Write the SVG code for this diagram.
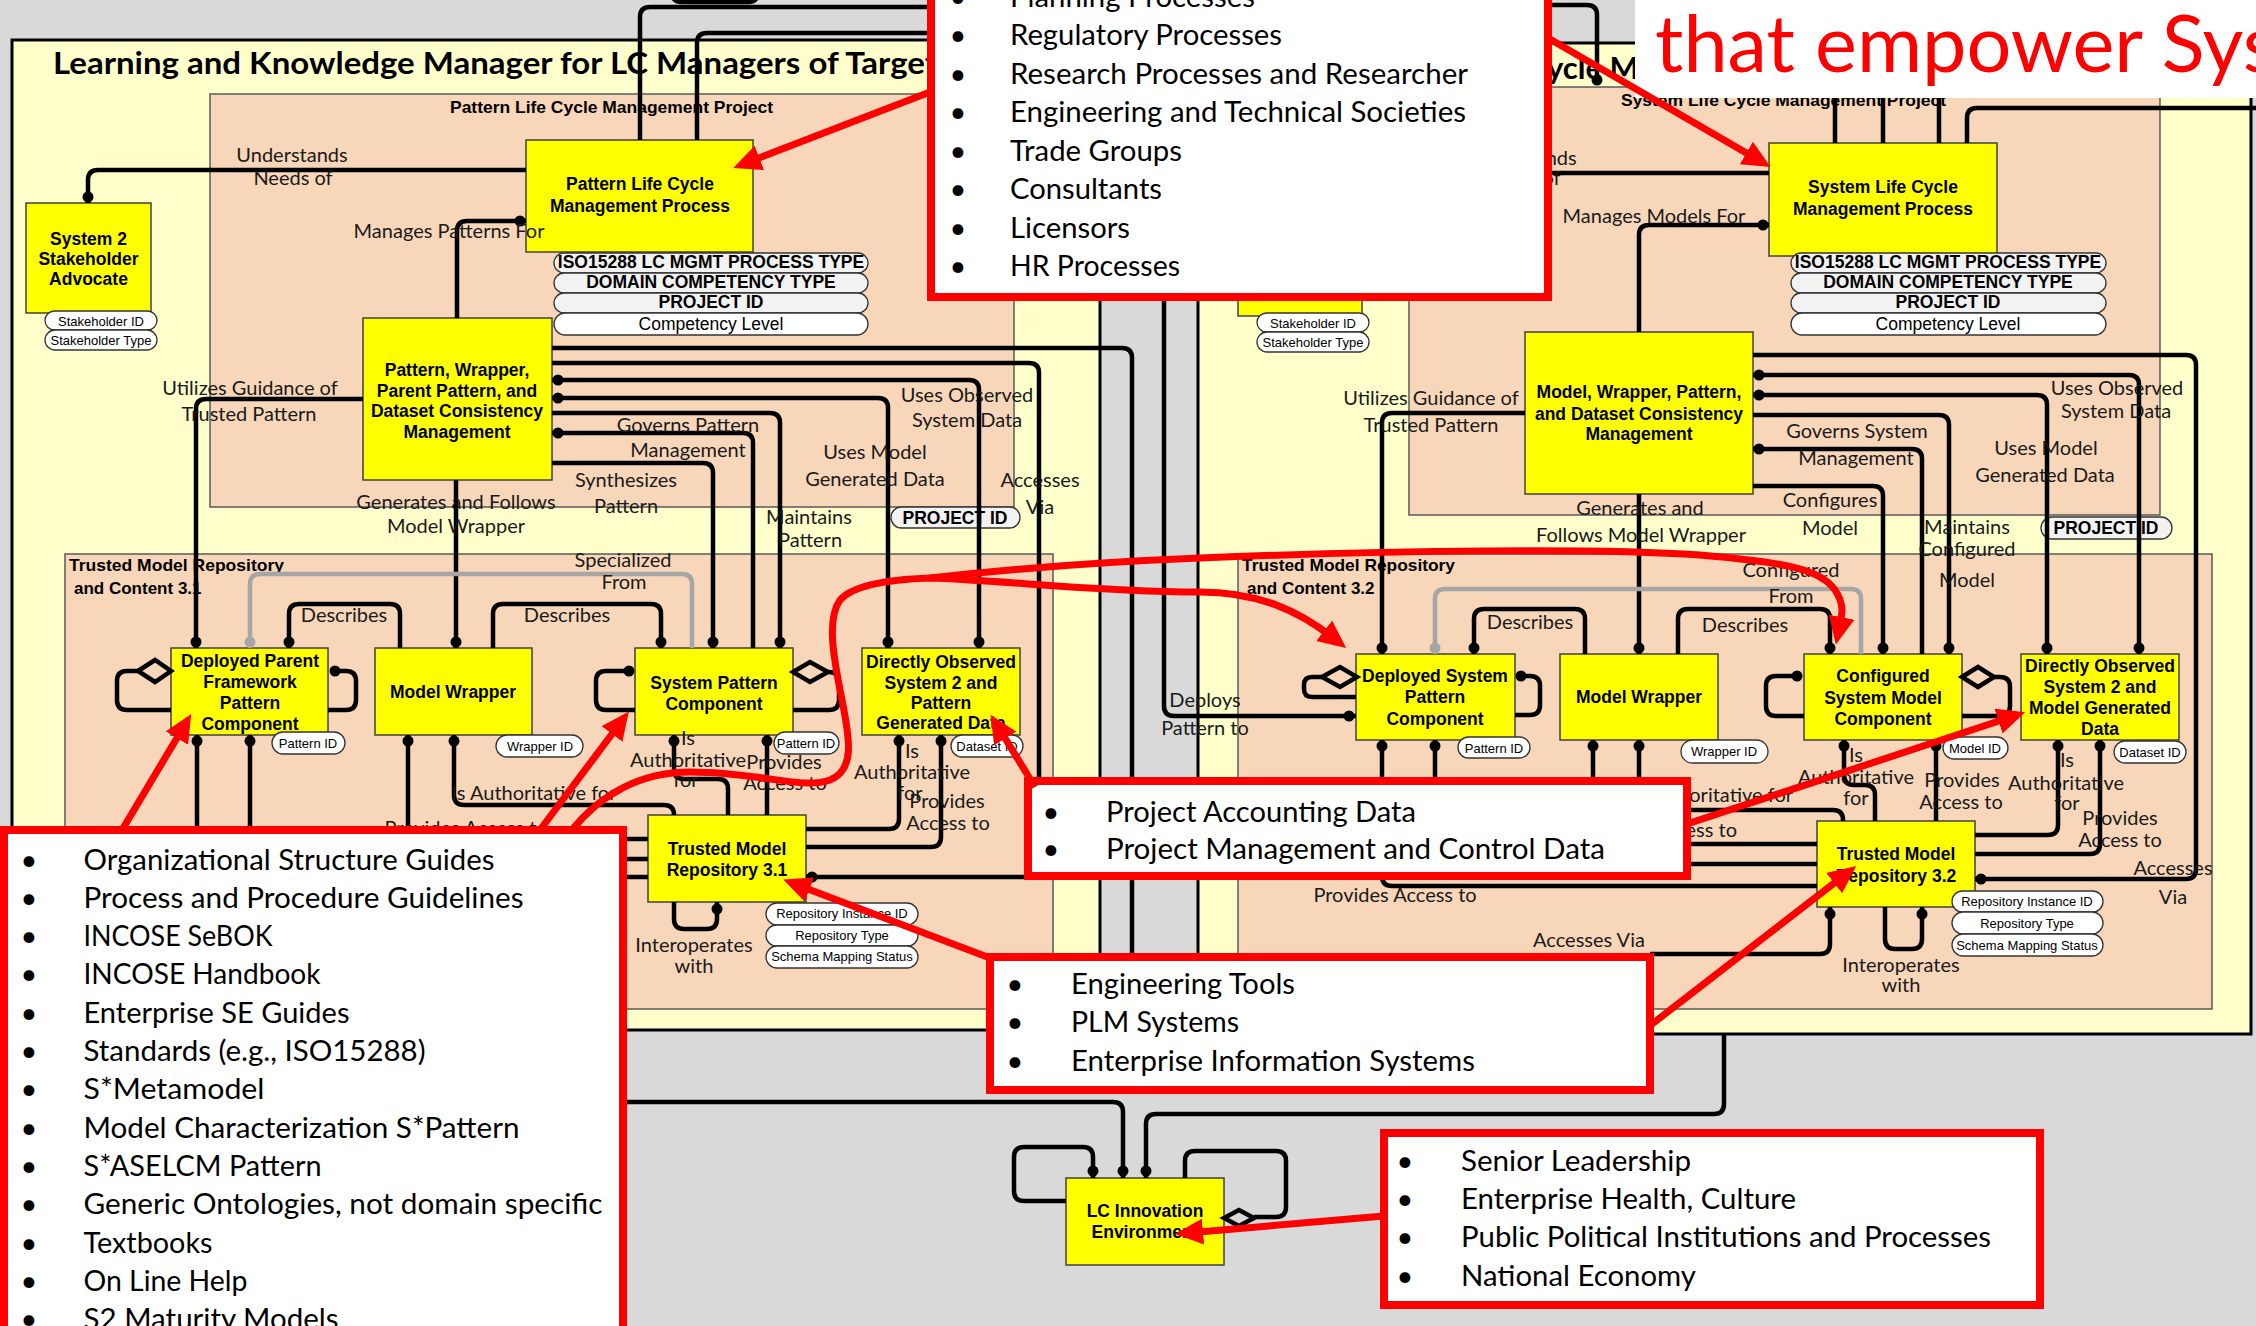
<svg xmlns="http://www.w3.org/2000/svg" width="2256" height="1326" viewBox="0 0 2256 1326">
<defs>
<style>
.bg{fill:#d9d9d9}
.panel{fill:#ffffcc;stroke:#000;stroke-width:3}
.sal{fill:#f8d6b9;stroke:#595959;stroke-width:1.5}
.box{fill:#ffff00;stroke:#404040;stroke-width:1.5}
.nt{font-family:"Liberation Sans",Arial,sans-serif;font-weight:bold;font-size:17.5px;text-anchor:middle;fill:#000}
.st{font-family:"Liberation Sans",Arial,sans-serif;font-weight:bold;font-size:17px;fill:#000}
.pill{fill:#fff;stroke:#333;stroke-width:1.3}
.pillg{fill:#f2f2f2;stroke:#333;stroke-width:1.3}
.pt{font-family:"Liberation Sans",Arial,sans-serif;font-size:13px;text-anchor:middle;fill:#000}
.pb{font-family:"Liberation Sans",Arial,sans-serif;font-weight:bold;font-size:17.5px;text-anchor:middle;fill:#000}
.pn{font-family:"Liberation Sans",Arial,sans-serif;font-size:17.5px;text-anchor:middle;fill:#000}
.c{fill:none;stroke:#000;stroke-width:4.5;stroke-linejoin:round}
.cg{fill:none;stroke:#a6a6a6;stroke-width:4.5;stroke-linejoin:round}
.dm{fill:none;stroke:#000;stroke-width:4.5;stroke-linejoin:miter}
.d{fill:#000}
.dg{fill:#a6a6a6}
.lbl{font-family:Lato,"Open Sans",sans-serif;font-size:20px;text-anchor:middle;fill:#1a1a1a}
.le{text-anchor:end}
.rb{fill:#fff;stroke:#ff0000;stroke-width:8}
.ra{fill:none;stroke:#ff0000;stroke-width:7;marker-end:url(#rh)}
.ct{font-family:Lato,"Open Sans",sans-serif;font-size:29px;fill:#000}
.bu{font-family:Lato,"Open Sans",sans-serif;font-size:29px;fill:#000;text-anchor:middle}
.ttl{font-family:Lato,"Open Sans",sans-serif;font-weight:bold;font-size:31px;fill:#000}
</style>
<marker id="rh" markerUnits="userSpaceOnUse" markerWidth="30" markerHeight="26" refX="10" refY="13" orient="auto">
<path d="M0,0 L28,13 L0,26 z" fill="#ff0000"/>
</marker>
</defs>

<!-- background and frames -->
<rect class="bg" x="0" y="0" width="2256" height="1326"/>
<rect class="panel" x="12" y="40" width="1088" height="990"/>
<rect class="panel" x="1198" y="43" width="1053" height="991"/>
<rect class="sal" x="210" y="94" width="804" height="413"/>
<rect class="sal" x="65" y="554" width="988" height="455"/>
<rect class="sal" x="1409" y="87" width="751" height="428"/>
<rect class="sal" x="1238" y="554" width="974" height="455"/>

<text class="ttl" x="53" y="74" textLength="884" lengthAdjust="spacingAndGlyphs">Learning and Knowledge Manager for LC Managers of Target</text>
<text class="ttl" x="1547" y="79">ycle M</text>
<text class="st" x="450" y="113" textLength="323" lengthAdjust="spacingAndGlyphs">Pattern Life Cycle Management Project</text>
<text class="st" x="69" y="571" textLength="215" lengthAdjust="spacingAndGlyphs">Trusted Model Repository</text>
<text class="st" x="74" y="594">and Content 3.1</text>
<text class="st" x="1621" y="106" textLength="325" lengthAdjust="spacingAndGlyphs">System Life Cycle Management Project</text>
<text class="st" x="1242" y="571" textLength="213" lengthAdjust="spacingAndGlyphs">Trusted Model Repository</text>
<text class="st" x="1247" y="594">and Content 3.2</text>

<!-- nodes -->
<g id="stakeholder-advocate-31">
<rect class="box" x="26" y="203" width="125" height="110"/>
<text class="nt"><tspan x="88.5" y="245">System 2</tspan><tspan x="88.5" y="265">Stakeholder</tspan><tspan x="88.5" y="285">Advocate</tspan></text>
<rect class="pill" x="45" y="311" width="112" height="19" rx="9.5"/>
<text class="pt" x="101" y="326">Stakeholder ID</text>
<rect class="pill" x="45" y="330" width="112" height="20" rx="10"/>
<text class="pt" x="101" y="345">Stakeholder Type</text>
</g>
<g id="pattern-lc-process">
<rect class="box" x="526" y="140" width="227" height="112"/>
<text class="nt"><tspan x="640" y="190">Pattern Life Cycle</tspan><tspan x="640" y="212">Management Process</tspan></text>
<rect class="pillg" x="554" y="253" width="314" height="20" rx="10"/>
<text class="pb" x="711" y="268">ISO15288 LC MGMT PROCESS TYPE</text>
<rect class="pillg" x="554" y="273" width="314" height="20" rx="10"/>
<text class="pb" x="711" y="288">DOMAIN COMPETENCY TYPE</text>
<rect class="pillg" x="554" y="293" width="314" height="20" rx="10"/>
<text class="pb" x="711" y="308">PROJECT ID</text>
<rect class="pill" x="554" y="313" width="314" height="22" rx="11"/>
<text class="pn" x="711" y="330">Competency Level</text>
</g>
<g id="pattern-consistency-mgmt">
<rect class="box" x="363" y="318" width="189" height="162"/>
<text class="nt"><tspan x="457" y="376">Pattern, Wrapper,</tspan><tspan x="457" y="397">Parent Pattern, and</tspan><tspan x="457" y="417">Dataset Consistency</tspan><tspan x="457" y="438">Management</tspan></text>
</g>
<g id="project-id-31">
<rect class="pillg" x="891" y="507" width="129" height="21" rx="10.5"/>
<text class="pb" x="955" y="524">PROJECT ID</text>
</g>
<g id="deployed-parent">
<rect class="box" x="171" y="648" width="157" height="87"/>
<text class="nt"><tspan x="250" y="667">Deployed Parent</tspan><tspan x="250" y="688">Framework</tspan><tspan x="250" y="709">Pattern</tspan><tspan x="250" y="730">Component</tspan></text>
<rect class="pill" x="272" y="732" width="73" height="22" rx="11"/>
<text class="pt" x="308" y="748">Pattern ID</text>
</g>
<g id="model-wrapper-31">
<rect class="box" x="375" y="648" width="157" height="87"/>
<text class="nt" x="453" y="698">Model Wrapper</text>
<rect class="pill" x="496" y="735" width="87" height="22" rx="11"/>
<text class="pt" x="540" y="751">Wrapper ID</text>
</g>
<g id="system-pattern">
<rect class="box" x="635" y="648" width="158" height="87"/>
<text class="nt"><tspan x="714" y="689">System Pattern</tspan><tspan x="714" y="710">Component</tspan></text>
<rect class="pill" x="774" y="732" width="65" height="22" rx="11"/>
<text class="pt" x="806" y="748">Pattern ID</text>
</g>
<g id="observed-data-31">
<rect class="box" x="862" y="648" width="158" height="87"/>
<text class="nt"><tspan x="941" y="668">Directly Observed</tspan><tspan x="941" y="689">System 2 and</tspan><tspan x="941" y="709">Pattern</tspan><tspan x="941" y="729">Generated Data</tspan></text>
<rect class="pill" x="951" y="735" width="72" height="22" rx="11"/>
<text class="pt" x="987" y="751">Dataset ID</text>
</g>
<g id="repository-31">
<rect class="box" x="648" y="815" width="158" height="87"/>
<text class="nt"><tspan x="727" y="855">Trusted Model</tspan><tspan x="727" y="876">Repository 3.1</tspan></text>
<rect class="pill" x="766" y="903" width="152" height="22" rx="11"/>
<text class="pt" x="842" y="918">Repository Instance ID</text>
<rect class="pill" x="766" y="925" width="152" height="21" rx="10.5"/>
<text class="pt" x="842" y="940">Repository Type</text>
<rect class="pill" x="766" y="946" width="152" height="22" rx="11"/>
<text class="pt" x="842" y="961">Schema Mapping Status</text>
</g>

<g id="stakeholder-advocate-32">
<rect class="box" x="1238" y="206" width="124" height="110"/>
<rect class="pill" x="1257" y="313" width="112" height="19" rx="9.5"/>
<text class="pt" x="1313" y="328">Stakeholder ID</text>
<rect class="pill" x="1257" y="332" width="112" height="20" rx="10"/>
<text class="pt" x="1313" y="347">Stakeholder Type</text>
</g>
<g id="system-lc-process">
<rect class="box" x="1769" y="143" width="228" height="113"/>
<text class="nt"><tspan x="1883" y="193">System Life Cycle</tspan><tspan x="1883" y="215">Management Process</tspan></text>
<rect class="pillg" x="1791" y="253" width="315" height="20" rx="10"/>
<text class="pb" x="1948" y="268">ISO15288 LC MGMT PROCESS TYPE</text>
<rect class="pillg" x="1791" y="273" width="315" height="20" rx="10"/>
<text class="pb" x="1948" y="288">DOMAIN COMPETENCY TYPE</text>
<rect class="pillg" x="1791" y="293" width="315" height="20" rx="10"/>
<text class="pb" x="1948" y="308">PROJECT ID</text>
<rect class="pill" x="1791" y="313" width="315" height="22" rx="11"/>
<text class="pn" x="1948" y="330">Competency Level</text>
</g>
<g id="model-consistency-mgmt">
<rect class="box" x="1525" y="332" width="228" height="162"/>
<text class="nt"><tspan x="1639" y="398">Model, Wrapper, Pattern,</tspan><tspan x="1639" y="420">and Dataset Consistency</tspan><tspan x="1639" y="440">Management</tspan></text>
</g>
<g id="project-id-32">
<rect class="pillg" x="2041" y="517" width="131" height="22" rx="11"/>
<text class="pb" x="2106" y="534">PROJECT ID</text>
</g>
<g id="deployed-system">
<rect class="box" x="1356" y="654" width="159" height="86"/>
<text class="nt"><tspan x="1435" y="682">Deployed System</tspan><tspan x="1435" y="703">Pattern</tspan><tspan x="1435" y="725">Component</tspan></text>
<rect class="pill" x="1458" y="737" width="72" height="21" rx="10.5"/>
<text class="pt" x="1494" y="753">Pattern ID</text>
</g>
<g id="model-wrapper-32">
<rect class="box" x="1560" y="654" width="158" height="86"/>
<text class="nt" x="1639" y="703">Model Wrapper</text>
<rect class="pill" x="1681" y="740" width="87" height="23" rx="11.5"/>
<text class="pt" x="1724" y="756">Wrapper ID</text>
</g>
<g id="configured-model">
<rect class="box" x="1804" y="654" width="158" height="86"/>
<text class="nt"><tspan x="1883" y="682">Configured</tspan><tspan x="1883" y="704">System Model</tspan><tspan x="1883" y="725">Component</tspan></text>
<rect class="pill" x="1943" y="737" width="65" height="22" rx="11"/>
<text class="pt" x="1975" y="753">Model ID</text>
</g>
<g id="observed-data-32">
<rect class="box" x="2021" y="654" width="158" height="86"/>
<text class="nt"><tspan x="2100" y="672">Directly Observed</tspan><tspan x="2100" y="693">System 2 and</tspan><tspan x="2100" y="714">Model Generated</tspan><tspan x="2100" y="735">Data</tspan></text>
<rect class="pill" x="2114" y="741" width="72" height="22" rx="11"/>
<text class="pt" x="2150" y="757">Dataset ID</text>
</g>
<g id="repository-32">
<rect class="box" x="1817" y="821" width="158" height="86"/>
<text class="nt"><tspan x="1896" y="860">Trusted Model</tspan><tspan x="1896" y="882">Repository 3.2</tspan></text>
<rect class="pill" x="1952" y="891" width="151" height="21" rx="10.5"/>
<text class="pt" x="2027" y="906">Repository Instance ID</text>
<rect class="pill" x="1952" y="912" width="151" height="22" rx="11"/>
<text class="pt" x="2027" y="928">Repository Type</text>
<rect class="pill" x="1952" y="934" width="151" height="22" rx="11"/>
<text class="pt" x="2027" y="950">Schema Mapping Status</text>
</g>
<g id="lc-innovation-environment">
<rect class="box" x="1066" y="1178" width="158" height="87"/>
<text class="nt"><tspan x="1145" y="1217">LC Innovation</tspan><tspan x="1145" y="1238">Environment</tspan></text>
</g>

<!-- connectors -->
<g id="connectors">
<path class="c" d="M88 203V180Q88 170 98 170H526"/>
<path class="c" d="M457 318V231Q457 221 467 221H526"/>
<path class="c" d="M363 399H206Q196 399 196 409V648"/>
<path class="c" d="M552 348H1122Q1132 348 1132 358V1000"/>
<path class="c" d="M552 363H1029Q1039 363 1039 373V867Q1039 877 1029 877H806"/>
<path class="c" d="M552 380H969Q979 380 979 390V648"/>
<path class="c" d="M552 398H878Q888 398 888 408V648"/>
<path class="c" d="M552 413H770Q780 413 780 423V648"/>
<path class="c" d="M552 433H743Q753 433 753 443V648"/>
<path class="c" d="M552 463H703Q713 463 713 473V648"/>
<path class="c" d="M456 480V648"/>
<path class="c" d="M289 648V614Q289 604 299 604H390Q400 604 400 614V648"/>
<path class="c" d="M493 648V614Q493 604 503 604H651Q661 604 661 614V648"/>
<path class="cg" d="M250 648V584Q250 574 260 574H682Q692 574 692 584V648"/>
<path class="c" d="M171 710H127Q117 710 117 700V681Q117 671 127 671H138"/>
<polygon class="dm" points="138,671 155,660 171,671 155,682"/>
<path class="c" d="M335 671H346Q356 671 356 681V700Q356 710 346 710H328"/>
<path class="c" d="M197 735V850M250 735V850M408 735V850"/>
<path class="c" d="M454 735V795Q454 805 464 805H664Q674 805 674 815"/>
<path class="c" d="M674 735V769Q674 779 684 779H718Q728 779 728 789V815"/>
<path class="c" d="M767 735V815"/>
<path class="c" d="M629 671H606Q596 671 596 681V700Q596 710 606 710H635"/>
<polygon class="dm" points="793,672 810,662 828,672 810,682"/>
<path class="c" d="M828 672H829Q839 672 839 682V700Q839 710 829 710H793"/>
<path class="c" d="M899 735V819Q899 829 889 829H806"/>
<path class="c" d="M941 735V837Q941 847 931 847H806"/>
<path class="c" d="M600 839H648M600 859H648M600 877H648"/>
<path class="c" d="M674 902V919Q674 929 684 929H707Q717 929 717 919V902"/>
<path class="c" d="M640 140V17Q640 7 650 7H960"/>
<path class="c" d="M697 140V43Q697 33 707 33H960"/>
<path class="c" d="M672 -14V-8Q672 2 682 2H748Q758 2 758 -8V-14"/>

<path class="c" d="M1540 5H1587Q1597 5 1597 15V82"/>
<path class="c" d="M1835 143V60M1883 143V60M1939 143V60"/>
<path class="c" d="M1967 143V118Q1967 108 1977 108H2256"/>
<path class="c" d="M1500 173H1769"/>
<path class="c" d="M1639 332V235Q1639 225 1649 225H1769"/>
<path class="c" d="M1525 413H1392Q1382 413 1382 423V654"/>
<path class="c" d="M1753 355H2186Q2196 355 2196 365V869Q2196 879 2186 879H1975"/>
<path class="c" d="M1753 375H2129Q2139 375 2139 385V654"/>
<path class="c" d="M1753 395H2037Q2047 395 2047 405V654"/>
<path class="c" d="M1753 415H1939Q1949 415 1949 425V654"/>
<path class="c" d="M1753 449H1912Q1922 449 1922 459V654"/>
<path class="c" d="M1753 486H1873Q1883 486 1883 496V654"/>
<path class="c" d="M1639 494V654"/>
<path class="c" d="M1474 654V619Q1474 609 1484 609H1575Q1585 609 1585 619V654"/>
<path class="c" d="M1678 654V619Q1678 609 1688 609H1820Q1830 609 1830 619V654"/>
<path class="cg" d="M1435 654V599Q1435 589 1445 589H1851Q1861 589 1861 599V654"/>
<path class="c" d="M1164 250V706Q1164 716 1174 716H1356"/>
<polygon class="dm" points="1322,677 1340,667 1357,677 1340,687"/>
<path class="c" d="M1322 677H1312Q1304 677 1304 685V689Q1304 697 1312 697H1356"/>
<path class="c" d="M1521 676H1530Q1540 676 1540 686V705Q1540 715 1530 715H1515"/>
<path class="c" d="M1382 740V876Q1382 886 1392 886H1817"/>
<path class="c" d="M1435 740V854Q1435 864 1445 864H1817"/>
<path class="c" d="M1593 740V834Q1593 844 1603 844H1817"/>
<path class="c" d="M1639 740V800Q1639 810 1649 810H1833Q1843 810 1843 820V821"/>
<path class="c" d="M1844 740V775Q1844 785 1854 785H1865Q1875 785 1875 795V821"/>
<path class="c" d="M1936 740V821"/>
<path class="c" d="M2058 740V825Q2058 835 2048 835H1975"/>
<path class="c" d="M2100 740V844Q2100 854 2090 854H1975"/>
<path class="c" d="M1797 676H1776Q1766 676 1766 686V706Q1766 716 1776 716H1804"/>
<polygon class="dm" points="1962,677 1978,667 1994,677 1978,687"/>
<path class="c" d="M1994 677H2000Q2010 677 2010 687V706Q2010 716 2000 716H1962"/>
<path class="c" d="M1830 907V944Q1830 954 1820 954H1650"/>
<path class="c" d="M1885 907V939Q1885 949 1895 949H1912Q1922 949 1922 939V907"/>
<path class="c" d="M1724 1034V1104Q1724 1114 1714 1114H1156Q1146 1114 1146 1124V1178"/>
<path class="c" d="M600 1102H1113Q1123 1102 1123 1112V1178"/>
<path class="c" d="M1093 1178V1157Q1093 1147 1083 1147H1024Q1014 1147 1014 1157V1191Q1014 1201 1024 1201H1066"/>
<path class="c" d="M1185 1178V1161Q1185 1151 1195 1151H1276Q1286 1151 1286 1161V1207Q1286 1217 1276 1217H1254"/>
<polygon class="dm" points="1224,1218 1239,1210 1254,1218 1239,1226"/>

<circle class="d" cx="88" cy="197" r="5.5"/>
<circle class="d" cx="520" cy="221" r="5.5"/>
<circle class="d" cx="196" cy="642" r="5.5"/>
<circle class="d" cx="558" cy="380" r="5.5"/>
<circle class="d" cx="979" cy="642" r="5.5"/>
<circle class="d" cx="558" cy="398" r="5.5"/>
<circle class="d" cx="888" cy="642" r="5.5"/>
<circle class="d" cx="780" cy="642" r="5.5"/>
<circle class="d" cx="558" cy="433" r="5.5"/>
<circle class="d" cx="713" cy="642" r="5.5"/>
<circle class="d" cx="456" cy="642" r="5.5"/>
<circle class="d" cx="289" cy="642" r="5.5"/>
<circle class="d" cx="661" cy="642" r="5.5"/>
<circle class="dg" cx="250" cy="642" r="5.5"/>
<circle class="d" cx="335" cy="671" r="5.5"/>
<circle class="d" cx="197" cy="741" r="5.5"/>
<circle class="d" cx="250" cy="741" r="5.5"/>
<circle class="d" cx="408" cy="741" r="5.5"/>
<circle class="d" cx="454" cy="741" r="5.5"/>
<circle class="d" cx="674" cy="741" r="5.5"/>
<circle class="d" cx="767" cy="741" r="5.5"/>
<circle class="d" cx="629" cy="671" r="5.5"/>
<circle class="d" cx="899" cy="741" r="5.5"/>
<circle class="d" cx="941" cy="741" r="5.5"/>
<circle class="d" cx="812" cy="877" r="5.5"/>
<circle class="d" cx="717" cy="909" r="5.5"/>
<circle class="d" cx="1597" cy="80" r="5.5"/>
<circle class="d" cx="1763" cy="225" r="5.5"/>
<circle class="d" cx="1382" cy="648" r="5.5"/>
<circle class="d" cx="1981" cy="879" r="5.5"/>
<circle class="d" cx="1759" cy="375" r="5.5"/>
<circle class="d" cx="2139" cy="648" r="5.5"/>
<circle class="d" cx="1759" cy="395" r="5.5"/>
<circle class="d" cx="2047" cy="648" r="5.5"/>
<circle class="d" cx="1949" cy="648" r="5.5"/>
<circle class="d" cx="1759" cy="449" r="5.5"/>
<circle class="d" cx="1883" cy="648" r="5.5"/>
<circle class="d" cx="1639" cy="648" r="5.5"/>
<circle class="d" cx="1474" cy="648" r="5.5"/>
<circle class="d" cx="1830" cy="648" r="5.5"/>
<circle class="dg" cx="1435" cy="648" r="5.5"/>
<circle class="d" cx="1349" cy="716" r="5.5"/>
<circle class="d" cx="1521" cy="676" r="5.5"/>
<circle class="d" cx="1382" cy="746" r="5.5"/>
<circle class="d" cx="1435" cy="746" r="5.5"/>
<circle class="d" cx="1593" cy="746" r="5.5"/>
<circle class="d" cx="1639" cy="746" r="5.5"/>
<circle class="d" cx="1844" cy="746" r="5.5"/>
<circle class="d" cx="1936" cy="746" r="5.5"/>
<circle class="d" cx="2058" cy="746" r="5.5"/>
<circle class="d" cx="2100" cy="746" r="5.5"/>
<circle class="d" cx="1797" cy="676" r="5.5"/>
<circle class="d" cx="1830" cy="914" r="5.5"/>
<circle class="d" cx="1922" cy="914" r="5.5"/>
<circle class="d" cx="1146" cy="1171" r="5.5"/>
<circle class="d" cx="1123" cy="1171" r="5.5"/>
<circle class="d" cx="1093" cy="1171" r="5.5"/>
</g>

<!-- connector labels -->
<g id="labels">
<text class="lbl" x="292" y="162">Understands</text>
<text class="lbl" x="293" y="185">Needs of</text>
<text class="lbl" x="449" y="238">Manages Patterns For</text>
<text class="lbl" x="250" y="395">Utilizes Guidance of</text>
<text class="lbl" x="249" y="421">Trusted Pattern</text>
<text class="lbl" x="688" y="432">Governs Pattern</text>
<text class="lbl" x="688" y="457">Management</text>
<text class="lbl" x="967" y="402">Uses Observed</text>
<text class="lbl" x="967" y="427">System Data</text>
<text class="lbl" x="875" y="459">Uses Model</text>
<text class="lbl" x="875" y="486">Generated Data</text>
<text class="lbl" x="626" y="487">Synthesizes</text>
<text class="lbl" x="626" y="513">Pattern</text>
<text class="lbl" x="1040" y="487">Accesses</text>
<text class="lbl" x="1040" y="514">Via</text>
<text class="lbl" x="809" y="524">Maintains</text>
<text class="lbl" x="810" y="547">Pattern</text>
<text class="lbl" x="456" y="509">Generates and Follows</text>
<text class="lbl" x="456" y="533">Model Wrapper</text>
<text class="lbl" x="623" y="567">Specialized</text>
<text class="lbl" x="624" y="589">From</text>
<text class="lbl" x="344" y="622">Describes</text>
<text class="lbl" x="567" y="622">Describes</text>
<text class="lbl" x="534" y="800">Is Authoritative for</text>
<text class="lbl" x="466" y="835">Provides Access to</text>
<text class="lbl" x="688" y="745">Is</text>
<text class="lbl" x="688" y="767">Authoritative</text>
<text class="lbl" x="686" y="787">for</text>
<text class="lbl" x="784" y="769">Provides</text>
<text class="lbl" x="785" y="790">Access to</text>
<text class="lbl" x="912" y="758">Is</text>
<text class="lbl" x="912" y="779">Authoritative</text>
<text class="lbl" x="910" y="800">for</text>
<text class="lbl" x="947" y="808">Provides</text>
<text class="lbl" x="948" y="830">Access to</text>
<text class="lbl" x="694" y="952">Interoperates</text>
<text class="lbl" x="694" y="973">with</text>

<text class="lbl" x="1521" y="165">Understands</text>
<text class="lbl" x="1521" y="185">Needs of</text>
<text class="lbl" x="1654" y="223">Manages Models For</text>
<text class="lbl" x="1431" y="405">Utilizes Guidance of</text>
<text class="lbl" x="1431" y="432">Trusted Pattern</text>
<text class="lbl" x="1857" y="438">Governs System</text>
<text class="lbl" x="1856" y="465">Management</text>
<text class="lbl" x="2117" y="395">Uses Observed</text>
<text class="lbl" x="2116" y="418">System Data</text>
<text class="lbl" x="2046" y="455">Uses Model</text>
<text class="lbl" x="2045" y="482">Generated Data</text>
<text class="lbl" x="1830" y="507">Configures</text>
<text class="lbl" x="1830" y="535">Model</text>
<text class="lbl" x="1640" y="515">Generates and</text>
<text class="lbl" x="1641" y="542">Follows Model Wrapper</text>
<text class="lbl" x="1967" y="534">Maintains</text>
<text class="lbl" x="1967" y="556">Configured</text>
<text class="lbl" x="1967" y="587">Model</text>
<text class="lbl" x="1530" y="629">Describes</text>
<text class="lbl" x="1745" y="632">Describes</text>
<text class="lbl" x="1791" y="577">Configured</text>
<text class="lbl" x="1791" y="603">From</text>
<text class="lbl" x="1205" y="707">Deploys</text>
<text class="lbl" x="1205" y="735">Pattern to</text>
<text class="lbl le" x="1793" y="802">Is Authoritative for</text>
<text class="lbl le" x="1737" y="837">Provides Access to</text>
<text class="lbl" x="1856" y="762">Is</text>
<text class="lbl" x="1856" y="784">Authoritative</text>
<text class="lbl" x="1856" y="805">for</text>
<text class="lbl" x="1962" y="787">Provides</text>
<text class="lbl" x="1961" y="809">Access to</text>
<text class="lbl" x="2067" y="767">Is</text>
<text class="lbl" x="2066" y="790">Authoritative</text>
<text class="lbl" x="2067" y="810">for</text>
<text class="lbl" x="2120" y="825">Provides</text>
<text class="lbl" x="2120" y="847">Access to</text>
<text class="lbl" x="2173" y="875">Accesses</text>
<text class="lbl" x="2173" y="904">Via</text>
<text class="lbl" x="1395" y="902">Provides Access to</text>
<text class="lbl" x="1589" y="947">Accesses Via</text>
<text class="lbl" x="1901" y="972">Interoperates</text>
<text class="lbl" x="1901" y="992">with</text>
</g>

<!-- callouts -->
<g id="headline">
<rect x="1635" y="-5" width="630" height="103" fill="#fff"/>
<text x="1655" y="72" font-family="Lato,'Open Sans',sans-serif" font-size="80" fill="#ff0000" textLength="622" lengthAdjust="spacingAndGlyphs">that empower Sys</text>
</g>
<g id="callout-influencers">
<rect class="rb" x="931" y="-20" width="617" height="317"/>
<text class="bu" x="958" y="6.5">•</text><text class="ct" x="1010" y="6.5" textLength="245" lengthAdjust="spacingAndGlyphs">Planning Processes</text>
<text class="bu" x="958" y="45">•</text><text class="ct" x="1010" y="45" textLength="272" lengthAdjust="spacingAndGlyphs">Regulatory Processes</text>
<text class="bu" x="958" y="83.5">•</text><text class="ct" x="1010" y="83.5" textLength="458" lengthAdjust="spacingAndGlyphs">Research Processes and Researcher</text>
<text class="bu" x="958" y="122">•</text><text class="ct" x="1010" y="122" textLength="456" lengthAdjust="spacingAndGlyphs">Engineering and Technical Societies</text>
<text class="bu" x="958" y="160.5">•</text><text class="ct" x="1010" y="160.5" textLength="172" lengthAdjust="spacingAndGlyphs">Trade Groups</text>
<text class="bu" x="958" y="199">•</text><text class="ct" x="1010" y="199" textLength="152" lengthAdjust="spacingAndGlyphs">Consultants</text>
<text class="bu" x="958" y="237.5">•</text><text class="ct" x="1010" y="237.5" textLength="120" lengthAdjust="spacingAndGlyphs">Licensors</text>
<text class="bu" x="958" y="276">•</text><text class="ct" x="1010" y="276" textLength="170" lengthAdjust="spacingAndGlyphs">HR Processes</text>
</g>
<g id="callout-project-data">
<rect class="rb" x="1028" y="781" width="659" height="95"/>
<text class="bu" x="1051" y="822">•</text><text class="ct" x="1106" y="822" textLength="310" lengthAdjust="spacingAndGlyphs">Project Accounting Data</text>
<text class="bu" x="1051" y="859">•</text><text class="ct" x="1106" y="859" textLength="499" lengthAdjust="spacingAndGlyphs">Project Management and Control Data</text>
</g>
<g id="callout-guides">
<rect class="rb" x="4" y="830" width="619" height="520"/>
<text class="bu" x="29" y="869.5">•</text><text class="ct" x="83.5" y="869.5" textLength="411" lengthAdjust="spacingAndGlyphs">Organizational Structure Guides</text>
<text class="bu" x="29" y="907.8">•</text><text class="ct" x="83.5" y="907.8" textLength="440" lengthAdjust="spacingAndGlyphs">Process and Procedure Guidelines</text>
<text class="bu" x="29" y="946.1">•</text><text class="ct" x="83.5" y="946.1" textLength="189" lengthAdjust="spacingAndGlyphs">INCOSE SeBOK</text>
<text class="bu" x="29" y="984.4">•</text><text class="ct" x="83.5" y="984.4" textLength="237" lengthAdjust="spacingAndGlyphs">INCOSE Handbook</text>
<text class="bu" x="29" y="1022.7">•</text><text class="ct" x="83.5" y="1022.7" textLength="266" lengthAdjust="spacingAndGlyphs">Enterprise SE Guides</text>
<text class="bu" x="29" y="1061">•</text><text class="ct" x="83.5" y="1061" textLength="342" lengthAdjust="spacingAndGlyphs">Standards (e.g., ISO15288)</text>
<text class="bu" x="29" y="1099.3">•</text><text class="ct" x="83.5" y="1099.3" textLength="181" lengthAdjust="spacingAndGlyphs">S*Metamodel</text>
<text class="bu" x="29" y="1137.6">•</text><text class="ct" x="83.5" y="1137.6" textLength="436" lengthAdjust="spacingAndGlyphs">Model Characterization S*Pattern</text>
<text class="bu" x="29" y="1175.9">•</text><text class="ct" x="83.5" y="1175.9" textLength="238" lengthAdjust="spacingAndGlyphs">S*ASELCM Pattern</text>
<text class="bu" x="29" y="1214.2">•</text><text class="ct" x="83.5" y="1214.2" textLength="519" lengthAdjust="spacingAndGlyphs">Generic Ontologies, not domain specific</text>
<text class="bu" x="29" y="1252.5">•</text><text class="ct" x="83.5" y="1252.5" textLength="129" lengthAdjust="spacingAndGlyphs">Textbooks</text>
<text class="bu" x="29" y="1290.8">•</text><text class="ct" x="83.5" y="1290.8" textLength="164" lengthAdjust="spacingAndGlyphs">On Line Help</text>
<text class="bu" x="29" y="1329.1">•</text><text class="ct" x="83.5" y="1329.1" textLength="255" lengthAdjust="spacingAndGlyphs">S2 Maturity Models</text>
</g>
<g id="callout-tools">
<rect class="rb" x="990" y="957" width="660" height="133"/>
<text class="bu" x="1015" y="994">•</text><text class="ct" x="1071" y="994" textLength="224" lengthAdjust="spacingAndGlyphs">Engineering Tools</text>
<text class="bu" x="1015" y="1032">•</text><text class="ct" x="1071" y="1032" textLength="168" lengthAdjust="spacingAndGlyphs">PLM Systems</text>
<text class="bu" x="1015" y="1071">•</text><text class="ct" x="1071" y="1071" textLength="404" lengthAdjust="spacingAndGlyphs">Enterprise Information Systems</text>
</g>
<g id="callout-society">
<rect class="rb" x="1384" y="1133" width="656" height="172"/>
<text class="bu" x="1405" y="1171">•</text><text class="ct" x="1461" y="1171" textLength="230" lengthAdjust="spacingAndGlyphs">Senior Leadership</text>
<text class="bu" x="1405" y="1209">•</text><text class="ct" x="1461" y="1209" textLength="335" lengthAdjust="spacingAndGlyphs">Enterprise Health, Culture</text>
<text class="bu" x="1405" y="1247">•</text><text class="ct" x="1461" y="1247" textLength="530" lengthAdjust="spacingAndGlyphs">Public Political Institutions and Processes</text>
<text class="bu" x="1405" y="1286">•</text><text class="ct" x="1461" y="1286" textLength="235" lengthAdjust="spacingAndGlyphs">National Economy</text>
</g>

<!-- red pointer arrows -->
<g id="pointers">
<path class="ra" d="M930 92L750 161.5"/>
<path class="ra" d="M1548 38L1755 158"/>
<path class="ra" d="M122 830L182 729.5"/>
<path class="ra" d="M540 830L618 726"/>
<path class="ra" d="M572 830C600 795 640 772 690 772C760 772 800 790 830 780C855 770 850 740 842 700C834 660 826 620 840 600C855 583 900 579 930 578C1000 580 1100 592 1200 592C1260 592 1300 612 1332 637"/>
<path class="ra" d="M930 578C1000 570 1100 562 1200 558C1400 550 1600 548 1700 555C1780 562 1820 568 1835 590C1845 605 1842 615 1839.5 627"/>
<path class="ra" d="M1035 787L1000 730"/>
<path class="ra" d="M990 958L800 886"/>
<path class="ra" d="M1652 1024L1842 877"/>
<path class="ra" d="M1687 824L2008 718"/>
<path class="ra" d="M1384 1216L1193 1232.5"/>
</g>
</svg>
